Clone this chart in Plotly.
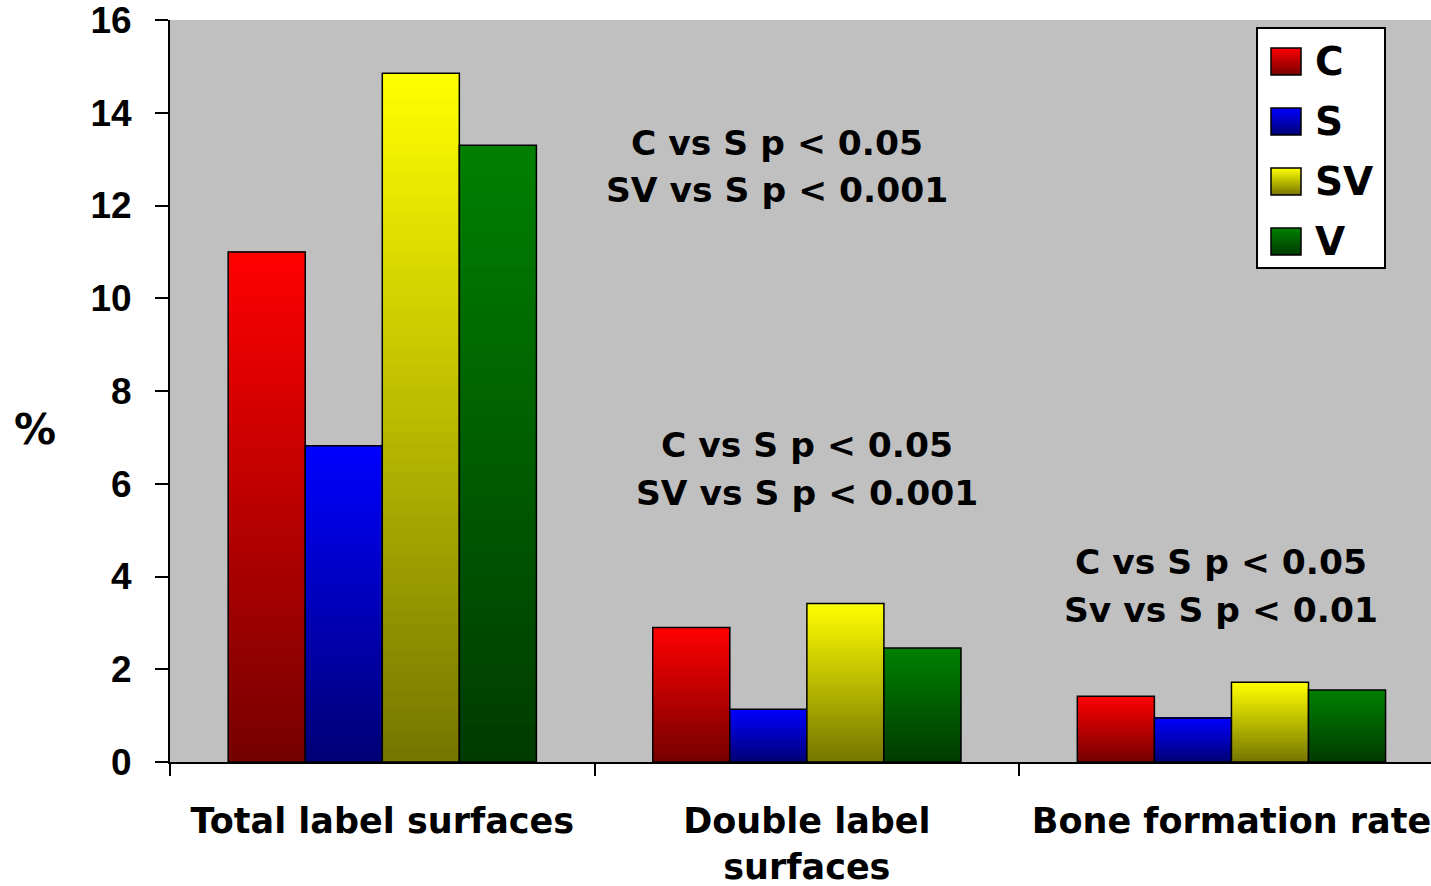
import plotly.graph_objects as go

# Histomorphometry results by group
categories = ["Total label surfaces", "Double label<br>surfaces", "Bone formation rate"]
series_names = ["C", "S", "SV", "V"]
c_values = [11.0, 2.9, 1.42]
s_values = [6.82, 1.14, 0.95]
sv_values = [14.85, 3.42, 1.72]
v_values = [13.3, 2.46, 1.55]

series_values = [c_values, s_values, sv_values, v_values]
top_colors = [(255, 0, 0), (0, 0, 255), (255, 255, 0), (0, 128, 0)]
DARK = 0.46          # bottom colour as a fraction of the top colour
N_STEPS = 50         # gradient steps per bar

stat_notes = [
    (0.93, 13.35, "C vs S p < 0.05"),
    (0.93, 12.33, "SV vs S p < 0.001"),
    (1.0, 6.84, "C vs S p < 0.05"),
    (1.0, 5.80, "SV vs S p < 0.001"),
    (1.975, 4.31, "C vs S p < 0.05"),
    (1.975, 3.28, "Sv vs S p < 0.01"),
]


def shade(rgb, t):
    """Colour at relative height t (0 = bottom, 1 = top) of a bar."""
    f = DARK + (1 - DARK) * t
    return "rgb({},{},{})".format(*(int(round(c * f)) for c in rgb))


fig = go.Figure()

# Each bar is filled with a vertical gradient: overlapping slices that start
# higher and higher up the bar, each covering the rest of it up to the top.
for k, (name, vals, rgb) in enumerate(zip(series_names, series_values, top_colors)):
    for i in range(N_STEPS):
        frac = i / N_STEPS
        fig.add_trace(go.Bar(
            x=categories,
            y=[v * (1 - frac) for v in vals],
            base=[v * frac for v in vals],
            offsetgroup=str(k),
            marker=dict(color=shade(rgb, (i + 0.5) / N_STEPS), line=dict(width=0)),
            hoverinfo="skip",
            showlegend=False,
        ))
    # black outline of the whole bar
    fig.add_trace(go.Bar(
        x=categories,
        y=vals,
        name=name,
        offsetgroup=str(k),
        marker=dict(color="rgba(0,0,0,0)", line=dict(color="black", width=1.5)),
        showlegend=False,
    ))

bold = dict(family="DejaVu Sans", color="black", weight="bold")

# --- layout geometry of the plotting area (pixels) ---
L, T, PW, PH = 170, 20, 1261, 742


def px(xp):
    return (xp - L) / PW


def py(yp):
    return (T + PH - yp) / PH


annotations = []
for x, y, txt in stat_notes:
    annotations.append(dict(x=x, y=y, xref="x", yref="y", text=txt, showarrow=False,
                            font=dict(size=34.5, **bold), xanchor="center", yanchor="middle"))

# y-axis title, written horizontally
annotations.append(dict(x=px(35), y=py(429), xref="paper", yref="paper", text="%",
                        showarrow=False, font=dict(size=42, **bold),
                        xanchor="center", yanchor="middle"))

# --- boxed key ---
shapes = [dict(type="rect", xref="paper", yref="paper",
               x0=px(1257), x1=px(1385), y0=py(268), y1=py(28),
               fillcolor="white", line=dict(color="black", width=2), layer="above")]

for j, (name, rgb) in enumerate(zip(series_names, top_colors)):
    top = 48 + 60 * j
    bot = top + 27
    steps = 14
    for s in range(steps):
        y_top = top + (bot - top) * s / steps
        shapes.append(dict(type="rect", xref="paper", yref="paper",
                           x0=px(1271), x1=px(1301), y0=py(bot), y1=py(y_top),
                           fillcolor=shade(rgb, 1 - (s + 0.5) / steps),
                           line=dict(width=0), layer="above"))
    shapes.append(dict(type="rect", xref="paper", yref="paper",
                       x0=px(1271), x1=px(1301), y0=py(bot), y1=py(top),
                       fillcolor="rgba(0,0,0,0)", line=dict(color="black", width=1.5),
                       layer="above"))
    annotations.append(dict(x=px(1313), y=py((top + bot) / 2), xref="paper", yref="paper",
                            text=name, showarrow=False, font=dict(size=39, **bold),
                            xanchor="left", yanchor="middle"))

fig.update_layout(
    width=1431, height=886,
    margin=dict(l=L, r=0, t=T, b=886 - T - PH),
    barmode="group", bargap=0.274, bargroupgap=0,
    plot_bgcolor="#c0c0c0", paper_bgcolor="white",
    showlegend=False,
    annotations=annotations,
    shapes=shapes,
)

fig.update_xaxes(
    type="category", categoryorder="array", categoryarray=categories,
    range=[-0.5, 2.47], tickson="boundaries",
    ticks="outside", ticklen=12, tickwidth=1.5, tickcolor="black",
    showline=True, linecolor="black", linewidth=2, showgrid=False,
    ticklabelstandoff=27, ticklabeloverflow="allow",
    tickfont=dict(size=35, **bold),
)

fig.update_yaxes(
    range=[0, 16], dtick=2, tick0=0,
    ticks="outside", ticklen=13, tickwidth=1.5, tickcolor="black",
    showline=True, linecolor="black", linewidth=2, showgrid=False, zeroline=False,
    ticklabelstandoff=16, ticklabeloverflow="allow",
    tickfont=dict(family="Liberation Sans", size=37, color="black", weight="bold"),
)

fig.write_html("out.html")
